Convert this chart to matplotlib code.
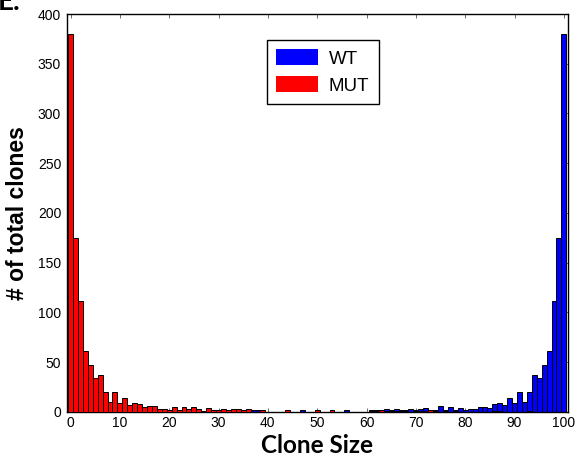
import numpy as np
import matplotlib
matplotlib.use("Agg")
import matplotlib.pyplot as plt
from matplotlib.patches import Patch

clone_size = list(range(0, 101))

mut_counts = [380, 175, 111, 61, 47, 34, 37, 20, 10, 20,
              9, 14, 7, 9, 8, 5, 6, 6, 3, 3,
              2, 5, 2, 5, 3, 5, 3, 0, 4, 2,
              2, 3, 2, 3, 3, 2, 3, 0, 0, 2,
              0, 0, 0, 0, 2, 0, 0, 0, 0, 0,
              2, 0, 0, 2, 0, 0, 0, 0, 0, 0,
              0, 1, 1, 2, 1, 1, 1, 1, 1, 0,
              1, 1, 1, 2, 1, 0, 1, 0, 1, 0,
              0, 0, 0, 0, 0, 0, 1, 1, 0, 0,
              0, 0, 0, 1, 0, 0, 0, 0, 0, 0,
              0]

wt_counts = [0, 0, 0, 0, 0, 0, 0, 0, 0, 0,
             0, 0, 0, 0, 0, 0, 0, 0, 0, 0,
             0, 0, 0, 0, 0, 0, 0, 1, 0, 0,
             0, 0, 0, 0, 1, 0, 1, 2, 2, 0,
             0, 0, 0, 0, 0, 0, 0, 2, 0, 0,
             0, 0, 0, 0, 0, 0, 2, 0, 0, 0,
             0, 2, 2, 2, 3, 2, 3, 2, 2, 3,
             2, 3, 4, 2, 2, 6, 2, 5, 2, 4,
             2, 3, 3, 5, 5, 4, 8, 9, 7, 14,
             9, 20, 10, 20, 37, 34, 47, 61, 111, 175,
             380]

series_labels = ["WT", "MUT"]
series_colors = ["#0000ff", "#ff0000"]
x_ticks = list(range(0, 101, 10))
y_ticks = list(range(0, 401, 50))

fig = plt.figure(figsize=(5.79, 4.58), dpi=100)
ax = fig.add_axes([0.1152, 0.101, 0.8653, 0.8684])

ax.bar(clone_size, wt_counts, width=1.0, color=series_colors[0],
       edgecolor="black", linewidth=0.7, zorder=2)
ax.bar(clone_size, mut_counts, width=1.0, color=series_colors[1],
       edgecolor="black", linewidth=0.7, zorder=3)

ax.set_xlim(-0.78, 100.78)
ax.set_ylim(0, 400)
ax.set_xticks(x_ticks)
ax.set_yticks(y_ticks)

tick_font = dict(family="Liberation Sans", size=10)
ax.set_xticklabels([str(v) for v in x_ticks], fontdict=tick_font)
ax.set_yticklabels([str(v) for v in y_ticks], fontdict=tick_font)
ax.tick_params(direction="in", length=3, width=0.6, top=True, right=True,
               color="#555555")
ax.tick_params(axis="x", pad=3)
ax.tick_params(axis="y", pad=4)
for s in ax.spines.values():
    s.set_linewidth(1.0)

ax.set_xlabel("Clone Size", fontfamily="Lato", fontweight="bold",
              fontsize=17.5, labelpad=3)
ax.set_ylabel("# of total clones", fontfamily="Liberation Sans",
              fontweight="bold", fontsize=16.5, labelpad=6)

handles = [Patch(facecolor=c, edgecolor="none") for c in series_colors]
leg = ax.legend(handles, series_labels, loc="upper left",
                bbox_to_anchor=(0.4, 0.935), borderaxespad=0,
                prop=dict(family="Liberation Sans", size=13.5),
                handlelength=2.2, handleheight=0.95, handletextpad=0.6,
                fancybox=False, framealpha=1, edgecolor="black",
                borderpad=0.5, labelspacing=0.45)
leg.get_frame().set_linewidth(1.0)

fig.text(-0.004, 0.995, "E.", fontfamily="Lato", fontweight="bold",
         fontsize=20, ha="left", va="center")

fig.savefig("out.png", dpi=100)
